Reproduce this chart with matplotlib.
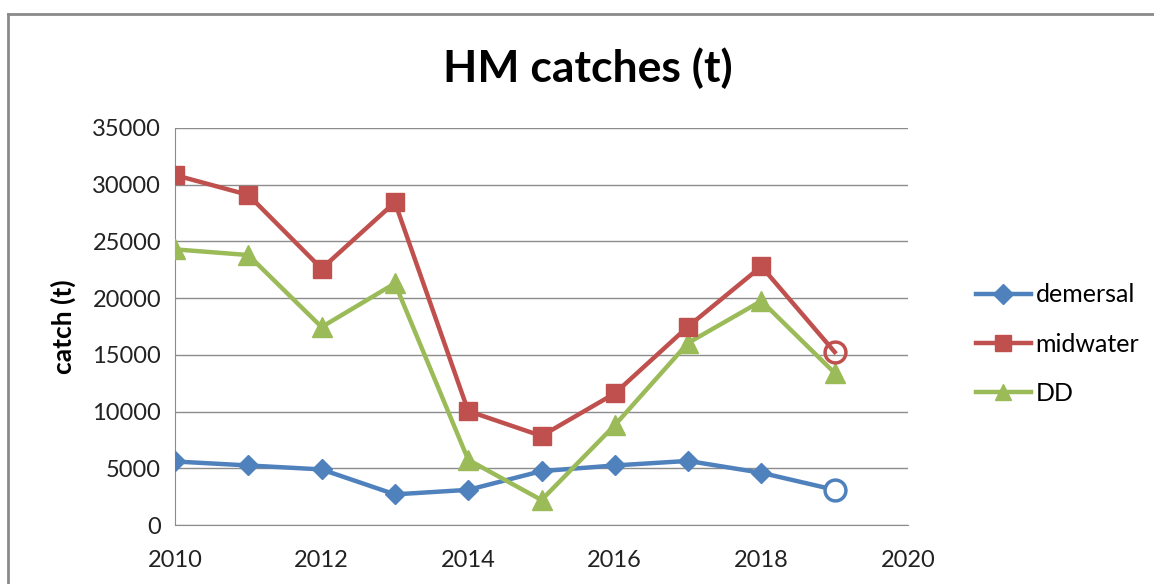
import matplotlib
matplotlib.use("Agg")
import matplotlib.pyplot as plt
from matplotlib.lines import Line2D

years = [2010, 2011, 2012, 2013, 2014, 2015, 2016, 2017, 2018, 2019]
demersal = [5600, 5250, 4900, 2700, 3100, 4750, 5250, 5650, 4600, 3100]
midwater = [30850, 29100, 22600, 28450, 10050, 7850, 11600, 17500, 22800, 15250]
dd = [24300, 23800, 17450, 21300, 5750, 2200, 8800, 16050, 19750, 13400]

blue = "#4F81BD"
red = "#C0504D"
green = "#9BBB59"

plt.rcParams['font.family'] = ['Lato', 'DejaVu Sans']

fig = plt.figure(figsize=(11.54, 5.84), dpi=100)
ax = fig.add_axes([175 / 1154, 1 - 525 / 584, (908 - 175) / 1154, (525 - 128) / 584])

lw = 3.2
# last point (2019) of demersal and midwater is drawn as an open circle
ax.plot(years, demersal, color=blue, lw=lw, zorder=3)
ax.plot(years[:-1], demersal[:-1], ls='none', marker='D', ms=10, color=blue, zorder=4)
ax.plot(years[-1:], demersal[-1:], ls='none', marker='o', ms=15, mfc='white', mec=blue, mew=2.5, zorder=4)

ax.plot(years, midwater, color=red, lw=lw, zorder=3)
ax.plot(years[:-1], midwater[:-1], ls='none', marker='s', ms=13, color=red, zorder=4)
ax.plot(years[-1:], midwater[-1:], ls='none', marker='o', ms=15, mfc='none', mec=red, mew=2.5, zorder=4)

ax.plot(years, dd, color=green, lw=lw, marker='^', ms=14, zorder=3)

ax.set_xlim(2010, 2020)
ax.set_ylim(0, 35000)
ax.set_xticks(range(2010, 2021, 2))
ax.set_yticks(range(0, 35001, 5000))
ax.grid(axis='y', color='#8c8c8c', lw=1)
ax.set_axisbelow(True)
for s in ['top', 'right']:
    ax.spines[s].set_visible(False)
for s in ['left', 'bottom']:
    ax.spines[s].set_color('#8c8c8c')
ax.tick_params(length=0, labelsize=17, colors='#222222', pad=10)
ax.tick_params(axis='x', pad=18)
ax.set_ylabel('catch (t)', fontsize=19, fontweight='bold', labelpad=12)

fig.text(0.509, 1 - 68 / 584, 'HM catches (t)', ha='center', va='center',
         fontsize=32, fontweight='bold')

handles = [
    Line2D([], [], color=blue, lw=lw, marker='D', ms=10),
    Line2D([], [], color=red, lw=lw, marker='s', ms=12),
    Line2D([], [], color=green, lw=lw, marker='^', ms=12),
]
fig.legend(handles, ['demersal', 'midwater', 'DD'], loc='center left',
           bbox_to_anchor=(953 / 1154, 1 - 344 / 584), frameon=False,
           fontsize=18, handlelength=2.2, handletextpad=0.2, labelspacing=1.05)

# outer chart border (left and top edges visible)
fig.add_artist(Line2D([8 / 1154, 8 / 1154], [0, 1 - 14 / 584], transform=fig.transFigure, color='#8a8a8a', lw=2))
fig.add_artist(Line2D([8 / 1154, 1], [1 - 14 / 584, 1 - 14 / 584], transform=fig.transFigure, color='#8a8a8a', lw=2))

fig.savefig('out.png', dpi=100)
